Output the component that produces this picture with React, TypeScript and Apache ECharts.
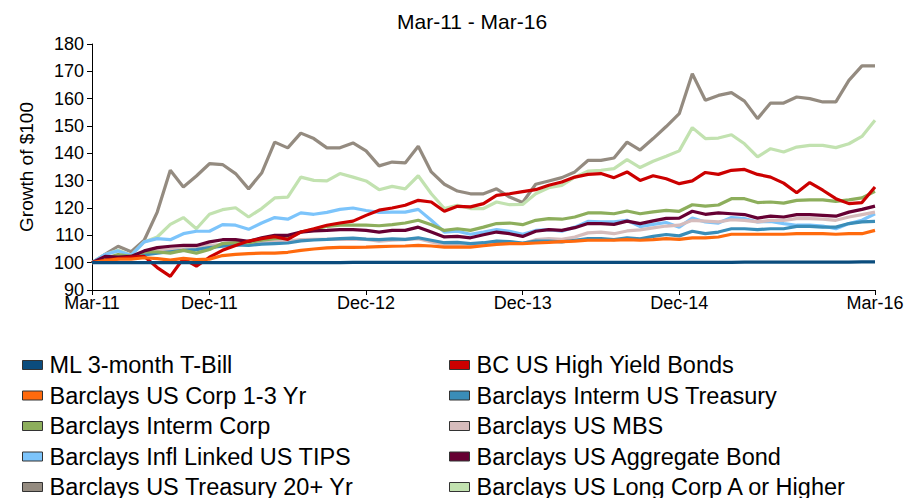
import React, { useEffect, useRef } from "react";
import * as echarts from "echarts";

const months = [
  "Mar-11","Apr-11","May-11","Jun-11","Jul-11","Aug-11","Sep-11","Oct-11","Nov-11","Dec-11",
  "Jan-12","Feb-12","Mar-12","Apr-12","May-12","Jun-12","Jul-12","Aug-12","Sep-12","Oct-12","Nov-12","Dec-12",
  "Jan-13","Feb-13","Mar-13","Apr-13","May-13","Jun-13","Jul-13","Aug-13","Sep-13","Oct-13","Nov-13","Dec-13",
  "Jan-14","Feb-14","Mar-14","Apr-14","May-14","Jun-14","Jul-14","Aug-14","Sep-14","Oct-14","Nov-14","Dec-14",
  "Jan-15","Feb-15","Mar-15","Apr-15","May-15","Jun-15","Jul-15","Aug-15","Sep-15","Oct-15","Nov-15","Dec-15",
  "Jan-16","Feb-16","Mar-16",
];

const xTickLabels = ["Mar-11", "Dec-11", "Dec-12", "Dec-13", "Dec-14", "Mar-16"];
const yTicks = { min: 90, max: 180, interval: 10 };

const tBill = [
  100,100,100,100,100,100,100,100,100,100,100,100,100,100,100,100,100,100,100,100,
  100.1,100.1,100.1,100.1,100.1,100.1,100.1,100.1,100.1,100.1,100.1,100.1,100.1,100.1,100.1,100.1,100.1,100.1,100.1,100.1,
  100.1,100.1,100.1,100.1,100.1,100.1,100.1,100.1,100.1,100.1,100.2,100.2,100.2,100.2,100.2,100.2,100.2,100.2,100.2,100.3,100.3,
];
const highYield = [
  100,100.9,101.5,102,102.3,98.2,95,101.5,98.7,102,104.5,106.3,107.9,108.8,109.5,108.5,111.2,112.4,113.7,114.5,
  115.2,117.3,119.2,120,121,122.8,122.2,118.8,120.6,120.4,121.6,124.6,125.2,126,126.7,128.3,129.5,131.3,132.3,132.6,
  131.1,133.2,130.1,131.8,130.7,128.9,129.9,133,132.3,133.8,134.1,132.3,131.3,129.1,125.6,129.3,126.5,123.4,121.6,122,127.7,
];
const corp13 = [
  100,100.8,101.3,101.3,101.8,101.5,100.9,101.6,101.1,101.3,102.6,103,103.3,103.5,103.5,103.8,104.5,105,105.4,105.6,
  105.6,105.7,105.9,106,106.1,106.3,106.1,105.7,105.7,105.7,106.2,106.7,107,107,107.2,107.4,107.7,107.9,108.2,108.2,
  108.2,108.4,108.2,108.4,108.8,108.5,109.1,109.1,109.4,110.4,110.4,110.4,110.4,110.4,110.6,110.6,110.6,110.4,110.6,110.6,111.8,
];
const intermTreasury = [
  100,101,101.5,102,102.8,103.5,104,104.5,104.8,105.5,106,106.5,106.3,106.8,107,107.2,108,108.3,108.5,108.8,
  109,108.6,108.4,108.7,108.5,109.1,108.2,107.3,107.4,107,107.3,107.9,107.7,107.2,107.9,107.9,107.6,108.2,108.8,108.8,
  108.4,109.1,108.7,109.6,110.3,109.8,111.5,110.6,111.2,112.4,112.4,112.1,112.4,112.4,113.3,113.3,113,113,114.3,114.9,115.1,
];
const intermCorp = [
  100,101.5,103,102.3,103.9,103.9,103.5,104.5,103.5,104.8,107,107.3,107.3,108.2,108.8,109.1,111.2,112.2,113.3,113.7,
  113.7,113.7,113.5,113.9,114.5,115.5,113.9,111.8,112.4,111.8,113,114.3,114.5,113.9,115.5,116.1,115.9,116.7,118.2,118.2,
  117.9,118.9,117.9,118.6,119.1,118.8,121.2,120.7,121.1,123.4,123.4,122,122.2,121.8,122.8,123,123,122.4,123,123.7,126.1,
];
const mbs = [
  100,101,102,102,103.3,104.5,104.8,105.1,105.4,106.3,106.6,107,107.2,107.6,107.8,107.9,108.4,108.5,108.5,108.5,
  108.5,108.5,107.9,108.2,108.4,108.8,107.6,106.6,106.3,106,107,107.8,107.6,107,108.4,108.8,108.5,109.4,110.9,111.2,
  110.6,111.6,112,112.7,113.4,113.7,115.5,115.2,114.9,115.7,115.5,114.9,115.5,115.5,116.1,116.1,115.9,115.5,116.7,117.6,118.5,
];
const tips = [
  100,103,104.3,102.7,107.6,108.8,108.4,110.6,111.5,111.5,113.9,113.7,112.2,114.5,116.5,115.9,118.2,117.7,118.4,119.5,
  120,119.1,118.4,118.5,118.5,119.5,115.5,111.2,111.5,110.4,111.2,112.1,111.5,110.4,111.8,112.1,111.5,113,115.1,114.9,
  114.9,115.5,113.2,114,114.7,113,116.3,114.9,114.5,116.5,116.1,114.9,115.1,114.3,113.7,113.7,113.4,112.4,114.3,115.5,117.9,
];
const aggregate = [
  100,102.3,102,102.3,104.3,105.5,106,106.3,106.3,107.6,108.4,108.4,107.8,109.1,110,110,111.2,111.6,111.8,112.1,
  112.1,111.8,111.2,111.8,111.8,113,111.2,109.4,109.6,109.1,110.2,111.2,110.6,109.6,111.5,112.1,111.8,112.8,114.3,114.3,
  114,115.2,114.3,115.3,116.2,116.3,118.8,117.7,118.2,117.9,117.6,116.3,117,116.7,117.6,117.6,117.3,117,118.5,119.5,120.7,
];
const treasury20 = [
  100,103,106,104,108.2,118.5,133.8,127.7,131.7,136.2,135.9,132.6,127,132.8,144.1,142,147.4,145.4,142,142,
  143.8,140.9,135.4,136.8,136.5,142.6,133.2,128.7,126.2,125.2,125.2,127,124,122,128.7,129.9,131.1,133.2,137.4,137.4,
  138.3,144.1,141.2,145.4,149.8,154.5,169.1,159.4,161.2,162.2,159.1,152.7,158.4,158.4,160.6,160,158.8,158.8,166.7,172,172,
];
const longCorpA = [
  100,103,104.5,102.7,107.6,109.4,114,116.5,112.4,117.7,119.4,120.1,116.7,119.8,123.7,124,131.3,130.1,129.9,132.6,
  131.3,129.9,126.7,127.9,127,131.8,125.2,119.8,121,119.8,119.8,122.2,121.2,121.3,125.2,127.4,128.3,131.3,133.5,133.8,
  134.4,137.7,134.8,137.1,138.9,140.9,149.4,145.4,145.6,146.8,143.5,138.7,141.7,140.5,142.3,142.9,142.9,142.1,143.5,146.2,152.1,
];

const seriesNames = {
  tBill: "ML 3-month T-Bill",
  highYield: "BC US High Yield Bonds",
  corp13: "Barclays US Corp 1-3 Yr",
  intermTreasury: "Barclays Interm US Treasury",
  intermCorp: "Barclays Interm Corp",
  mbs: "Barclays US MBS",
  tips: "Barclays Infl Linked US TIPS",
  aggregate: "Barclays US Aggregate Bond",
  treasury20: "Barclays US Treasury 20+ Yr",
  longCorpA: "Barclays US Long Corp A or Higher",
};

const legendCol1 = [seriesNames.tBill, seriesNames.corp13, seriesNames.intermCorp, seriesNames.tips, seriesNames.treasury20];
const legendCol2 = [seriesNames.highYield, seriesNames.intermTreasury, seriesNames.mbs, seriesNames.aggregate, seriesNames.longCorpA];

const FONT = "'Liberation Sans', Arial, Helvetica, sans-serif";

export default function App() {
  const ref = useRef<HTMLDivElement>(null);

  useEffect(() => {
    if (!ref.current) return;
    const chart = echarts.init(ref.current, null, { renderer: "svg" });

    const drawOrder: [string, number[], string][] = [
      [seriesNames.treasury20, treasury20, "#948B80"],
      [seriesNames.longCorpA, longCorpA, "#C2E2B0"],
      [seriesNames.tips, tips, "#7CC4FB"],
      [seriesNames.mbs, mbs, "#D6BCBC"],
      [seriesNames.intermTreasury, intermTreasury, "#3A8DB8"],
      [seriesNames.intermCorp, intermCorp, "#8DAE5C"],
      [seriesNames.aggregate, aggregate, "#660033"],
      [seriesNames.highYield, highYield, "#CC0000"],
      [seriesNames.corp13, corp13, "#FF6A0D"],
      [seriesNames.tBill, tBill, "#0B4C7D"],
    ];

    const showTick = (_i: number, v: string) => xTickLabels.includes(v);

    const legendBase = {
      orient: "vertical" as const,
      top: 353,
      height: 200,
      padding: 0,
      itemGap: 6.5,
      itemWidth: 20,
      itemHeight: 9,
      icon: "rect",
      selectedMode: false,
      itemStyle: { borderColor: "#333", borderWidth: 1 },
      textStyle: { fontFamily: FONT, fontSize: 23.5, color: "#000", lineHeight: 22, padding: [0, 0, 0, 2] },
    };

    chart.setOption({
      animation: false,
      backgroundColor: "#fff",
      title: {
        text: "Mar-11 - Mar-16",
        left: 392,
        top: 6,
        textStyle: { fontFamily: FONT, fontSize: 21, fontWeight: "normal", color: "#000" },
      },
      legend: [
        { ...legendBase, left: 22, data: legendCol1 },
        { ...legendBase, left: 449, data: legendCol2 },
      ],
      grid: { left: 92, right: 42, top: 44, bottom: 208, containLabel: false },
      xAxis: {
        type: "category",
        data: months,
        boundaryGap: false,
        axisLine: { lineStyle: { color: "#000", width: 1 } },
        axisTick: { show: true, interval: showTick, length: 5, lineStyle: { color: "#000" } },
        axisLabel: { interval: showTick, fontFamily: FONT, fontSize: 18, color: "#000", margin: 4 },
        splitLine: { show: false },
      },
      yAxis: {
        type: "value",
        min: yTicks.min,
        max: yTicks.max,
        interval: yTicks.interval,
        name: "Growth of $100",
        nameLocation: "middle",
        nameGap: 56,
        nameTextStyle: { fontFamily: FONT, fontSize: 19, color: "#000" },
        axisLine: { show: true, lineStyle: { color: "#000", width: 1 } },
        axisTick: { show: true, length: 5, lineStyle: { color: "#000" } },
        axisLabel: { fontFamily: FONT, fontSize: 18, color: "#000", margin: 8 },
        splitLine: { show: false },
      },
      series: drawOrder.map(([name, data, color]) => ({
        name,
        type: "line",
        data,
        symbol: "none",
        color,
        lineStyle: { color, width: 3.2 },
        itemStyle: { color },
      })),
    });

    return () => chart.dispose();
  }, []);

  return (
    <div
      ref={ref}
      style={{ position: "fixed", left: 0, top: 0, width: 917, height: 498, background: "#fff" }}
    />
  );
}
